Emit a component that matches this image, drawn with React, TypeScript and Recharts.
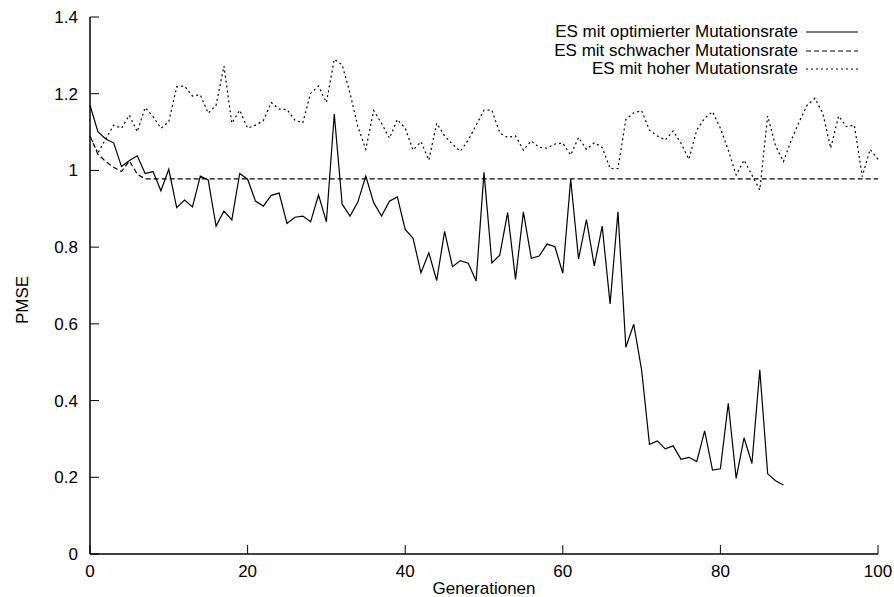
import React from 'react';
import { LineChart, Line, XAxis, YAxis, Legend, Customized } from 'recharts';

const optGenerations = [0,1,2,3,4,5,6,7,8,9,10,11,12,13,14,15,16,17,18,19,20,21,22,23,24,25,26,27,28,29,30,31,32,33,34,35,36,37,38,39,40,41,42,43,44,45,46,47,48,49,50,51,52,53,54,55,56,57,58,59,60,61,62,63,64,65,66,67,68,69,70,71,72,73,74,75,76,77,78,79,80,81,82,83,84,85,86,87,88];
const optValues = [1.170,1.101,1.082,1.072,1.010,1.026,1.038,0.992,0.997,0.947,1.003,0.903,0.923,0.905,0.985,0.975,0.855,0.894,0.871,0.992,0.977,0.920,0.907,0.935,0.941,0.862,0.878,0.881,0.866,0.936,0.866,1.147,0.912,0.881,0.918,0.985,0.916,0.881,0.920,0.931,0.846,0.823,0.733,0.785,0.713,0.841,0.749,0.765,0.758,0.712,0.995,0.759,0.779,0.890,0.716,0.892,0.771,0.777,0.808,0.801,0.732,0.977,0.769,0.872,0.751,0.855,0.652,0.892,0.539,0.599,0.480,0.286,0.295,0.274,0.282,0.247,0.252,0.241,0.321,0.219,0.222,0.393,0.197,0.303,0.236,0.480,0.209,0.191,0.180];

const weakGenerations = [0,1,2,3,4,5,6,7,100];
const weakValues = [1.090,1.042,1.023,1.008,0.997,1.025,0.990,0.978,0.978];

const highGenerations = [0,1,2,3,4,5,6,7,8,9,10,11,12,13,14,15,16,17,18,19,20,21,22,23,24,25,26,27,28,29,30,31,32,33,34,35,36,37,38,39,40,41,42,43,44,45,46,47,48,49,50,51,52,53,54,55,56,57,58,59,60,61,62,63,64,65,66,67,68,69,70,71,72,73,74,75,76,77,78,79,80,81,82,83,84,85,86,87,88,89,90,91,92,93,94,95,96,97,98,99,100];
const highValues = [1.090,1.045,1.082,1.118,1.110,1.144,1.101,1.164,1.140,1.110,1.127,1.218,1.220,1.194,1.197,1.149,1.170,1.272,1.123,1.157,1.110,1.118,1.130,1.177,1.160,1.159,1.131,1.124,1.201,1.220,1.177,1.290,1.275,1.201,1.114,1.055,1.156,1.123,1.084,1.133,1.110,1.053,1.075,1.027,1.123,1.090,1.068,1.050,1.079,1.118,1.157,1.157,1.098,1.086,1.090,1.053,1.077,1.060,1.058,1.069,1.071,1.040,1.086,1.055,1.072,1.060,1.005,1.005,1.133,1.150,1.156,1.105,1.090,1.079,1.103,1.071,1.029,1.105,1.136,1.153,1.110,1.053,0.988,1.027,0.988,0.949,1.142,1.064,1.023,1.079,1.127,1.170,1.188,1.149,1.058,1.142,1.114,1.118,0.984,1.055,1.029];

const xTicks = [0, 20, 40, 60, 80, 100];
const yTicks = [0, 0.2, 0.4, 0.6, 0.8, 1, 1.2, 1.4];

const seriesNames = [
  'ES mit optimierter Mutationsrate',
  'ES mit schwacher Mutationsrate',
  'ES mit hoher Mutationsrate',
];
const xLabel = 'Generationen';
const yLabel = 'PMSE';

const toRows = (gens: number[], vals: number[]) => gens.map((g, i) => ({ gen: g, value: vals[i] }));
const optData = toRows(optGenerations, optValues);
const weakData = toRows(weakGenerations, weakValues);
const highData = toRows(highGenerations, highValues);

const FONT = '"Liberation Sans", Arial, Helvetica, sans-serif';
const FS = 17;
const dashes = [undefined, '5 3', '2 3'];

const tickStyle = { fill: '#000', fontSize: FS, fontFamily: FONT };
const axisLineStyle = { stroke: '#000', strokeWidth: 1.5 };
const tickLineStyle = { stroke: '#000', strokeWidth: 1 };

const LegendContent = () => (
  <div style={{ fontFamily: FONT, fontSize: FS, color: '#000' }}>
    {seriesNames.map((name, i) => (
      <div key={name} style={{ display: 'flex', justifyContent: 'flex-end', alignItems: 'center', height: 18.5 }}>
        <span style={{ whiteSpace: 'nowrap', lineHeight: '18.5px' }}>{name}</span>
        <svg width={54} height={10} style={{ marginLeft: 8, display: 'block' }}>
          <line x1={0} y1={5} x2={52} y2={5} stroke="#000" strokeWidth={1.2} strokeDasharray={dashes[i]} />
        </svg>
      </div>
    ))}
  </div>
);

const AxisTitles = () => (
  <g>
    <text x={484} y={594} textAnchor="middle" fontFamily={FONT} fontSize={FS} fill="#000">{xLabel}</text>
    <text x={28} y={300} textAnchor="middle" fontFamily={FONT} fontSize={FS} fill="#000" transform="rotate(-90, 28, 300)">{yLabel}</text>
  </g>
);

export default function App() {
  return (
    <div style={{ position: 'absolute', left: 0, top: 0, width: 894, height: 597, background: '#fff' }}>
      <LineChart width={894} height={597} margin={{ top: 17, right: 16, bottom: 0, left: 0 }}>
        <XAxis
          xAxisId="bottom"
          dataKey="gen"
          type="number"
          domain={[0, 100]}
          ticks={xTicks}
          orientation="bottom"
          height={43}
          tickSize={-9}
          tickMargin={20}
          tick={tickStyle}
          axisLine={axisLineStyle}
          tickLine={tickLineStyle}
          allowDuplicatedCategory={false}
        />
        <XAxis
          xAxisId="top"
          dataKey="gen"
          type="number"
          domain={[0, 100]}
          ticks={xTicks}
          orientation="top"
          height={0}
          tickSize={-9}
          tickFormatter={() => ''}
          axisLine={axisLineStyle}
          tickLine={tickLineStyle}
        />
        <YAxis
          yAxisId="left"
          type="number"
          domain={[0, 1.4]}
          ticks={yTicks}
          width={90}
          tickSize={-9}
          tickMargin={21}
          tick={tickStyle}
          axisLine={axisLineStyle}
          tickLine={tickLineStyle}
        />
        <YAxis
          yAxisId="right"
          type="number"
          domain={[0, 1.4]}
          ticks={yTicks}
          orientation="right"
          width={0}
          tickSize={-9}
          tickFormatter={() => ''}
          axisLine={axisLineStyle}
          tickLine={tickLineStyle}
        />
        <Line xAxisId="bottom" yAxisId="left" data={optData} dataKey="value" name={seriesNames[0]} stroke="#000" strokeWidth={1.2} dot={false} isAnimationActive={false} />
        <Line xAxisId="bottom" yAxisId="left" data={weakData} dataKey="value" name={seriesNames[1]} stroke="#000" strokeWidth={1.2} strokeDasharray={dashes[1]} dot={false} isAnimationActive={false} />
        <Line xAxisId="bottom" yAxisId="left" data={highData} dataKey="value" name={seriesNames[2]} stroke="#000" strokeWidth={1.2} strokeDasharray={dashes[2]} dot={false} isAnimationActive={false} />
        <Legend
          layout="vertical"
          align="center"
          verticalAlign="middle"
          content={<LegendContent />}
          wrapperStyle={{ top: 23, left: 460, width: 400, height: 56 }}
        />
        <Customized component={AxisTitles} />
      </LineChart>
    </div>
  );
}
